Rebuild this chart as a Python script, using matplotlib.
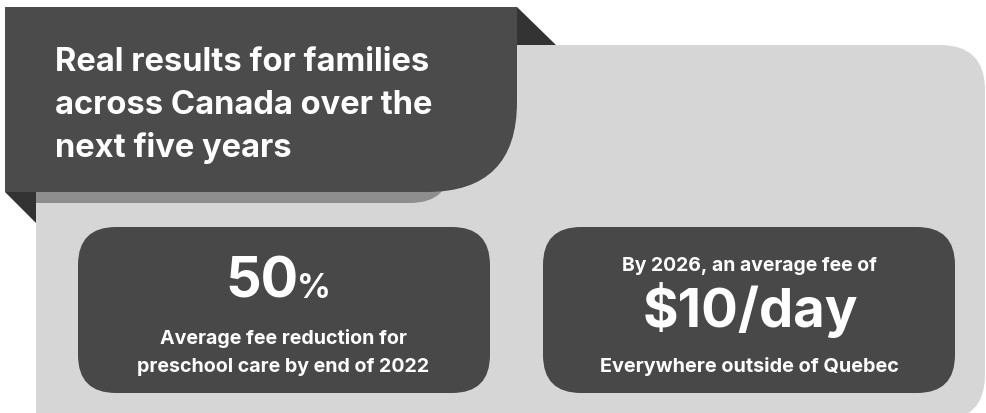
import matplotlib
matplotlib.use("Agg")
import matplotlib.pyplot as plt
from matplotlib.patches import FancyBboxPatch, Rectangle, Polygon

plt.rcParams['font.family'] = ['Inter', 'DejaVu Sans']

# text content
title_lines = ["Real results for families", "across Canada over the", "next five years"]
left_big = "50"
left_pct = "%"
left_caption = ["Average fee reduction for", "preschool care by end of 2022"]
right_intro = "By 2026, an average fee of"
right_big = "$10/day"
right_caption = "Everywhere outside of Quebec"

banner_col = '#4b4b4b'
fold_col = '#333333'
panel_col = '#d6d6d6'
shadow_col = '#8e8e8e'
card_col = '#484848'

fig = plt.figure(figsize=(9.86, 4.13), dpi=100)
ax = fig.add_axes([0, 0, 1, 1])
ax.set_xlim(0, 986)
ax.set_ylim(413, 0)
ax.axis('off')


def rbox(x, y, w, h, r, color, z):
    ax.add_patch(FancyBboxPatch((x, y), w, h, boxstyle=f"round,pad=0,rounding_size={r}",
                                fc=color, ec='none', zorder=z))


# light grey panel, square on the left
rbox(36, 45, 949, 375, 45, panel_col, 1)
ax.add_patch(Rectangle((36, 45), 80, 375, fc=panel_col, ec='none', zorder=1))

# folds of the ribbon
ax.add_patch(Polygon([(517, 7), (556, 45), (517, 45)], fc=fold_col, ec='none', zorder=2))
ax.add_patch(Polygon([(5, 192), (36, 192), (36, 223)], fc=fold_col, ec='none', zorder=2))

# shadow under the banner
rbox(36, 110, 415, 93, 41, shadow_col, 2)
ax.add_patch(Rectangle((36, 110), 100, 93, fc=shadow_col, ec='none', zorder=2))

# title banner, only bottom-right corner rounded
rbox(5, 7, 512, 185, 90, banner_col, 3)
ax.add_patch(Rectangle((5, 7), 512, 95, fc=banner_col, ec='none', zorder=3))
ax.add_patch(Rectangle((5, 7), 420, 185, fc=banner_col, ec='none', zorder=3))

# two stat cards
rbox(78, 227, 412, 166, 38, card_col, 3)
rbox(543, 227, 412, 166, 38, card_col, 3)

renderer = fig.canvas.get_renderer()


def fit_text(x, y, s, width, ha='center', size=20):
    # scale the font so the text spans the wanted pixel width
    t = ax.text(x, y, s, ha=ha, va='baseline', color='white',
                fontsize=size, fontweight='bold', zorder=5)
    w = t.get_window_extent(renderer).width
    t.set_fontsize(size * width / w)
    return t


t = fit_text(55, 71, title_lines[0], 376, ha='left')
fs = t.get_fontsize()
for line, y in zip(title_lines[1:], [114, 157]):
    ax.text(55, y, line, ha='left', va='baseline', color='white',
            fontsize=fs, fontweight='bold', zorder=5)

big = fit_text(225, 298, left_big, 73, ha='left')
ax.text(297, 298, left_pct, ha='left', va='baseline', color='white',
        fontsize=big.get_fontsize() * 0.6, fontweight='bold', zorder=5)
fit_text(283, 344, left_caption[0], 248)
fit_text(283, 372, left_caption[1], 293)

fit_text(749, 271, right_intro, 255)
fit_text(750, 327, right_big, 216)
fit_text(749, 372, right_caption, 300)

fig.savefig('out.png', dpi=100)
